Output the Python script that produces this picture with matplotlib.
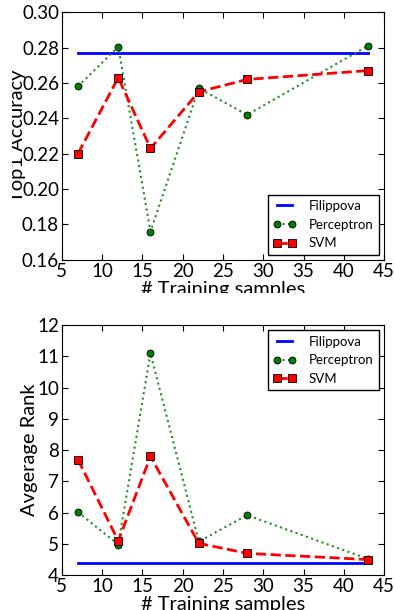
import matplotlib
matplotlib.use("Agg")
import matplotlib.pyplot as plt
from matplotlib.transforms import Bbox, TransformedBbox

# training set sizes
samples = [7, 12, 16, 22, 28, 43]

# top panel: Top1 accuracy
acc_filippova = 0.277
acc_perceptron = [0.258, 0.2805, 0.176, 0.257, 0.242, 0.281]
acc_svm = [0.220, 0.263, 0.223, 0.255, 0.262, 0.267]

# bottom panel: average rank
rank_filippova = 4.38
rank_perceptron = [6.02, 4.98, 11.1, 5.08, 5.92, 4.52]
rank_svm = [7.7, 5.1, 7.8, 5.02, 4.7, 4.5]

plt.rcParams['font.family'] = ['Lato', 'DejaVu Sans']
plt.rcParams['xtick.direction'] = 'in'
plt.rcParams['ytick.direction'] = 'in'
plt.rcParams['xtick.top'] = True
plt.rcParams['ytick.right'] = True
plt.rcParams['xtick.major.size'] = 4
plt.rcParams['ytick.major.size'] = 4


def draw_panel(ax, base, perc, svm, ylabel, ylim, yticks, loc, ylab_x):
    ax.plot([samples[0], samples[-1]], [base, base], color='#0000ff', lw=2,
            label='Filippova')
    ax.plot(samples, perc, color='#228b22', ls=':', lw=1.5, marker='o',
            markersize=5, markerfacecolor='#008000', markeredgecolor='black',
            markeredgewidth=0.6, label='Perceptron')
    ax.plot(samples, svm, color='#ff0000', ls='--', lw=2, marker='s',
            markersize=5.5, markerfacecolor='#ff0000', markeredgecolor='black',
            markeredgewidth=0.6, label='SVM')
    ax.set_xlim(5, 45)
    ax.set_ylim(*ylim)
    ax.set_yticks(yticks)
    ax.set_xticks(range(5, 46, 5))
    ax.tick_params(labelsize=13.5, pad=2)
    ax.set_xlabel('# Training samples', fontsize=14.5, labelpad=1)
    ax.set_ylabel(ylabel, fontsize=14.5)
    ax.yaxis.set_label_coords(ylab_x, 0.5)
    leg = ax.legend(loc=loc, fontsize=9.5, numpoints=2, handlelength=1.7,
                    fancybox=False, framealpha=1, borderaxespad=0.4,
                    handletextpad=1.0)
    leg.get_frame().set_edgecolor('black')
    leg.get_frame().set_linewidth(1)


fig = plt.figure(figsize=(3.94, 6.10), dpi=100)
ax1 = fig.add_axes([0.157, 0.574, 0.818, 0.406])
ax2 = fig.add_axes([0.157, 0.057, 0.818, 0.41])

draw_panel(ax1, acc_filippova, acc_perceptron, acc_svm, 'Top1 Accuracy',
           (0.16, 0.30), [0.16, 0.18, 0.20, 0.22, 0.24, 0.26, 0.28, 0.30],
           'lower right', -0.112)
draw_panel(ax2, rank_filippova, rank_perceptron, rank_svm, 'Avgerage Rank',
           (4, 12), range(4, 13), 'upper right', -0.075)

# the top panel's labels are cut off like in the original figure
clip_x = TransformedBbox(Bbox([[0, 1 - 293 / 610.], [1, 1]]), fig.transFigure)
ax1.xaxis.label.set_clip_box(clip_x)
ax1.xaxis.label.set_clip_on(True)
clip_y = TransformedBbox(Bbox([[12 / 394., 0], [1, 1]]), fig.transFigure)
ax1.yaxis.label.set_clip_box(clip_y)
ax1.yaxis.label.set_clip_on(True)

fig.savefig('out.png', dpi=100)
